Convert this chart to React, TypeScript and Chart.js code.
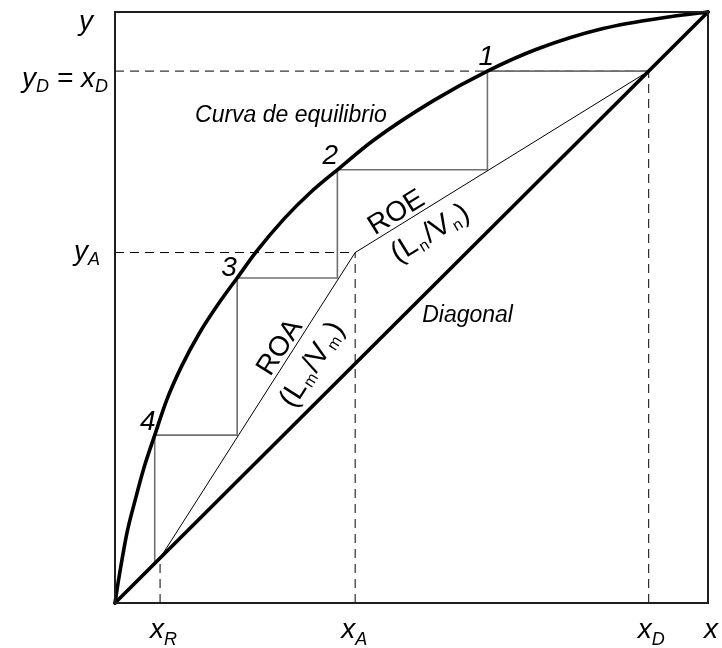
import React, { useEffect, useRef } from "react";
import { Chart, registerables } from "chart.js";

Chart.register(...registerables);

// ---------------- data ----------------
const xR = 0.076;
const xA = 0.405;
const yA = 0.593;
const xD = 0.9;
const yD = 0.9;

// equilibrium curve
const eqX = [0, 0.005, 0.01, 0.02, 0.034, 0.048, 0.067, 0.087, 0.112, 0.142, 0.177, 0.206, 0.238, 0.285, 0.33, 0.375, 0.436, 0.537, 0.628, 0.711, 0.823, 0.936, 1];
const eqY = [0, 0.033, 0.063, 0.118, 0.174, 0.226, 0.284, 0.343, 0.4, 0.456, 0.51, 0.55, 0.594, 0.65, 0.695, 0.733, 0.783, 0.85, 0.9, 0.937, 0.972, 0.992, 1];

const diagX = [0, 1];
const diagY = [0, 1];

// stage corners on the equilibrium curve
const stageX = [0.628, 0.375, 0.206, 0.067];
const stageY = [0.9, 0.733, 0.55, 0.284];
const stageLabels = ["1", "2", "3", "4"];

// axis tick labels ("_" marks a one-letter subscript)
const xTickValues = [xR, xA, xD, 1];
const xTickLabels = ["x_R", "x_A", "x_D", "x"];
const yTickValues = [1, yD, yA];
const yTickLabels = ["y", "y_D = x_D", "y_A"];

// free text
const curveLabel = "Curva de equilibrio";
const diagLabel = "Diagonal";
const roeLabels = ["ROE", "(L_n/V_n)"];
const roaLabels = ["ROA", "(L_m/V_m)"];

// ---------------- layout / style ----------------
const FONT = '"Liberation Sans", Arial, Helvetica, sans-serif';
const xTickDx = [-10, -14, -11, -4];
const yTickRight = [-22, -7, -15];
const yTickDy = [18, 16, 7];
const stageDx = [-1, -7, -8, -7];
const stageDy = [-6, -6, -1.5, -5];
const roeAlong = [56, 74];
const roePerp = [14.3, -21];
const roaAlong = [242, 245];
const roaPerp = [14.4, -22];
const lineTextSize = [28, 29];

type Seg = { t: string; sub: boolean };
function parseRich(s: string): Seg[] {
  const out: Seg[] = [];
  let cur = "";
  for (let i = 0; i < s.length; i++) {
    if (s[i] === "_" && i + 1 < s.length) {
      if (cur) out.push({ t: cur, sub: false });
      cur = "";
      out.push({ t: s[i + 1], sub: true });
      i++;
    } else cur += s[i];
  }
  if (cur) out.push({ t: cur, sub: false });
  return out;
}

function drawRich(
  ctx: CanvasRenderingContext2D,
  s: string,
  x: number,
  y: number,
  align: "left" | "right" | "center",
  size: number,
  subSize: number,
  italic: boolean,
  subDrop: number,
  subGap = 0
) {
  const segs = parseRich(s);
  const fMain = `${italic ? "italic " : ""}${size}px ${FONT}`;
  const fSub = `${italic ? "italic " : ""}${subSize}px ${FONT}`;
  const widths = segs.map((g) => {
    ctx.font = g.sub ? fSub : fMain;
    return ctx.measureText(g.t).width + (g.sub ? subGap * 2 : 0);
  });
  const total = widths.reduce((a, b) => a + b, 0);
  let cx = align === "left" ? x : align === "right" ? x - total : x - total / 2;
  ctx.textAlign = "left";
  ctx.textBaseline = "alphabetic";
  segs.forEach((g, i) => {
    ctx.font = g.sub ? fSub : fMain;
    ctx.fillText(g.t, cx + (g.sub ? subGap : 0), y + (g.sub ? subDrop : 0));
    cx += widths[i];
  });
}

const pts = (xs: number[], ys: number[]) => xs.map((x, i) => ({ x, y: ys[i] }));

function stepPoints() {
  const p = [{ x: xD, y: yD }];
  for (let k = 0; k < stageX.length; k++) {
    p.push({ x: stageX[k], y: stageY[k] });
    const nextY = k < stageX.length - 1 ? stageY[k + 1] : stageX[k];
    p.push({ x: stageX[k], y: nextY });
  }
  return p;
}

const overlay = {
  id: "overlay",
  afterDatasetsDraw(chart: any) {
    const { ctx, chartArea: a, scales } = chart;
    const sx = scales.x;
    const sy = scales.y;
    ctx.save();
    // frame
    ctx.strokeStyle = "#1e1e1e";
    ctx.lineWidth = 2;
    ctx.strokeRect(a.left, a.top, a.right - a.left, a.bottom - a.top);

    ctx.fillStyle = "#000";
    // x tick labels
    xTickValues.forEach((v, i) => {
      const px = sx.getPixelForValue(v);
      drawRich(ctx, xTickLabels[i], px + xTickDx[i], a.bottom + 35, "left", 28, 18, true, 7);
    });
    // y tick labels
    yTickValues.forEach((v, i) => {
      const py = sy.getPixelForValue(v);
      drawRich(ctx, yTickLabels[i], a.left + yTickRight[i], py + yTickDy[i], "right", 28, 18, true, 5);
    });
    // stage numbers
    stageX.forEach((v, i) => {
      const px = sx.getPixelForValue(v) + stageDx[i];
      const py = sy.getPixelForValue(stageY[i]) + stageDy[i];
      drawRich(ctx, stageLabels[i], px, py, "center", 28, 18, true, 5);
    });
    // free labels
    drawRich(ctx, curveLabel, sx.getPixelForValue(0.135), sy.getPixelForValue(0.814), "left", 23, 15, true, 4);
    drawRich(ctx, diagLabel, sx.getPixelForValue(0.518), sy.getPixelForValue(0.475), "left", 23, 15, true, 4);

    // rotated operating-line labels
    const lineText = (
      x0: number, y0: number, x1: number, y1: number,
      texts: string[], along: number[], perp: number[]
    ) => {
      const ax = sx.getPixelForValue(x0), ay = sy.getPixelForValue(y0);
      const bx = sx.getPixelForValue(x1), by = sy.getPixelForValue(y1);
      const len = Math.hypot(bx - ax, by - ay);
      const dx = (bx - ax) / len, dy = (by - ay) / len;
      const nx = dy, ny = -dx;
      const ang = Math.atan2(dy, dx);
      texts.forEach((t, i) => {
        const cx = ax + dx * along[i] + nx * perp[i];
        const cy = ay + dy * along[i] + ny * perp[i];
        const size = lineTextSize[i];
        ctx.save();
        ctx.translate(cx, cy);
        ctx.rotate(ang);
        drawRich(ctx, t, 0, size * 0.36, "center", size, 16, false, 4, 1.5);
        ctx.restore();
      });
    };
    lineText(xA, yA, xD, yD, roeLabels, roeAlong, roePerp);
    lineText(xR, xR, xA, yA, roaLabels, roaAlong, roaPerp);
    ctx.restore();
  },
};

export default function App() {
  const ref = useRef<HTMLCanvasElement | null>(null);
  useEffect(() => {
    if (!ref.current) return;
    const dash = [9, 6];
    const dashed = (data: { x: number; y: number }[]) => ({
      data,
      borderColor: "#000",
      borderWidth: 1,
      borderDash: dash,
      pointRadius: 0,
      order: 4,
      clip: false as any,
    });
    const chart = new Chart(ref.current, {
      type: "line",
      data: {
        datasets: [
          {
            data: pts(eqX, eqY),
            borderColor: "#000",
            borderWidth: 3.6,
            pointRadius: 0,
            cubicInterpolationMode: "monotone",
            borderCapStyle: "round",
            order: 0,
            clip: false as any,
          },
          {
            data: pts(diagX, diagY),
            borderColor: "#000",
            borderWidth: 3.6,
            pointRadius: 0,
            borderCapStyle: "round",
            order: 0,
            clip: false as any,
          },
          {
            data: [{ x: xA, y: yA }, { x: xD, y: yD }],
            borderColor: "#000",
            borderWidth: 1,
            pointRadius: 0,
            order: 2,
          },
          {
            data: [{ x: xR, y: xR }, { x: xA, y: yA }],
            borderColor: "#000",
            borderWidth: 1,
            pointRadius: 0,
            order: 2,
          },
          {
            data: stepPoints(),
            borderColor: "#707070",
            borderWidth: 1.6,
            pointRadius: 0,
            order: 3,
          },
          dashed([{ x: 0, y: yD }, { x: xD, y: yD }]),
          dashed([{ x: xD, y: 0 }, { x: xD, y: yD }]),
          dashed([{ x: 0, y: yA }, { x: xA, y: yA }]),
          dashed([{ x: xA, y: 0 }, { x: xA, y: yA }]),
          dashed([{ x: xR, y: 0 }, { x: xR, y: xR }]),
        ] as any,
      },
      options: {
        responsive: false,
        animation: false,
        events: [],
        layout: { padding: { left: 115, top: 12, right: 14, bottom: 45 } },
        scales: {
          x: { type: "linear", min: 0, max: 1, display: false },
          y: { type: "linear", min: 0, max: 1, display: false },
        },
        plugins: { legend: { display: false }, tooltip: { enabled: false } },
      },
      plugins: [overlay],
    });
    return () => chart.destroy();
  }, []);
  return (
    <div style={{ position: "absolute", left: 0, top: 0, width: 722, height: 648, background: "#fff" }}>
      <canvas ref={ref} width={722} height={648} />
    </div>
  );
}
